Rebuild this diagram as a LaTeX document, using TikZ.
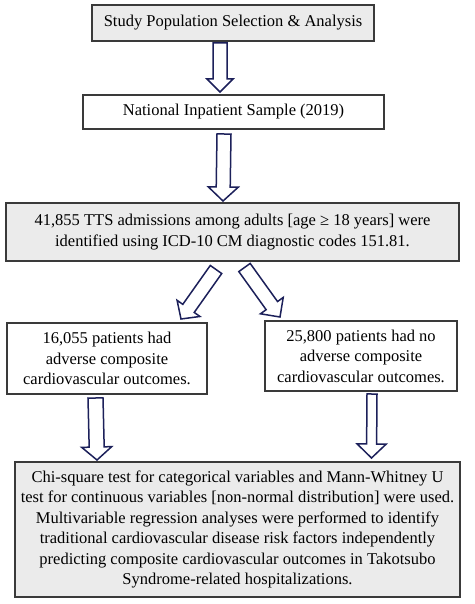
\documentclass[tikz,border=0pt]{standalone}
\usepackage{fontspec}
\setmainfont{Liberation Serif}
\usetikzlibrary{calc}
\definecolor{boxgray}{HTML}{EBEBEB}
\definecolor{boxline}{HTML}{3A3A3A}
\definecolor{arrnavy}{HTML}{1C205A}
\tikzset{
  box/.style={draw=boxline, line width=1.3pt, align=center, inner sep=0pt,
    font=\fontsize{16.5}{20.5}\selectfont},
  graybox/.style={box, fill=boxgray},
  whitebox/.style={box, fill=white},
  barr/.style={draw=arrnavy, line width=1.5pt, fill=white, line join=miter},
}
% from, to, half shaft, half head, head length
\newcommand\blockarr[5]{%
  \coordinate (hb) at ($(#2)!#5!(#1)$);
  \draw[barr] ($(#1)!#3!90:(#2)$) -- ($(hb)!#3!-90:(#1)$) -- ($(hb)!#4!-90:(#1)$)
    -- (#2) -- ($(hb)!#4!90:(#1)$) -- ($(hb)!#3!90:(#1)$) -- ($(#1)!#3!-90:(#2)$) -- cycle;
}
\begin{document}
\begin{tikzpicture}[x=1pt,y=-1pt]
\useasboundingbox[fill=white] (0,0) rectangle (474,604);
\node[graybox, minimum width=282pt, minimum height=36pt] (b1) at (233,23)
  {Study Population Selection \& Analysis};
\node[whitebox, minimum width=301pt, minimum height=34pt] (b2) at (233.5,112)
  {National Inpatient Sample (2019)};
\node[graybox, minimum width=453pt, minimum height=58pt] (b3) at (232.5,232)
  {41,855 TTS admissions among adults [age ≥ 18 years] were\\
   identified using ICD-10 CM diagnostic codes 151.81.};
\node[whitebox, minimum width=200pt, minimum height=71pt] (b4) at (107,358.5)
  {16,055 patients had\\ adverse composite\\ cardiovascular outcomes.};
\node[whitebox, minimum width=192pt, minimum height=70pt] (b5) at (361,356)
  {25,800 patients had no\\ adverse composite\\ cardiovascular outcomes.};
\node[graybox, minimum width=445pt, minimum height=135pt] (b6) at (237.5,529.5)
  {Chi-square test for categorical variables and Mann-Whitney U\\
   test for continuous variables [non-normal distribution] were used.\\
   Multivariable regression analyses were performed to identify\\
   traditional cardiovascular disease risk factors independently\\
   predicting composite cardiovascular outcomes in Takotsubo\\
   Syndrome-related hospitalizations.};
% arrow end points
\coordinate (a1s) at (220,43);   \coordinate (a1e) at (220,92);
\coordinate (a2s) at (224,134);  \coordinate (a2e) at (223,201);
\coordinate (a3s) at (216,269.5);\coordinate (a3e) at (181,319);
\coordinate (a4s) at (244.5,267.5);\coordinate (a4e) at (280,317);
\coordinate (a5s) at (95.5,398); \coordinate (a5e) at (97,460);
\coordinate (a6s) at (372,394);  \coordinate (a6e) at (371.5,458);
\blockarr{a1s}{a1e}{7pt}{13pt}{13pt}
\blockarr{a2s}{a2e}{7pt}{15pt}{14pt}
\blockarr{a3s}{a3e}{7pt}{14pt}{13pt}
\blockarr{a4s}{a4e}{7pt}{14pt}{14pt}
\blockarr{a5s}{a5e}{7.5pt}{15pt}{13pt}
\blockarr{a6s}{a6e}{5pt}{14.5pt}{14pt}
\end{tikzpicture}
\end{document}
